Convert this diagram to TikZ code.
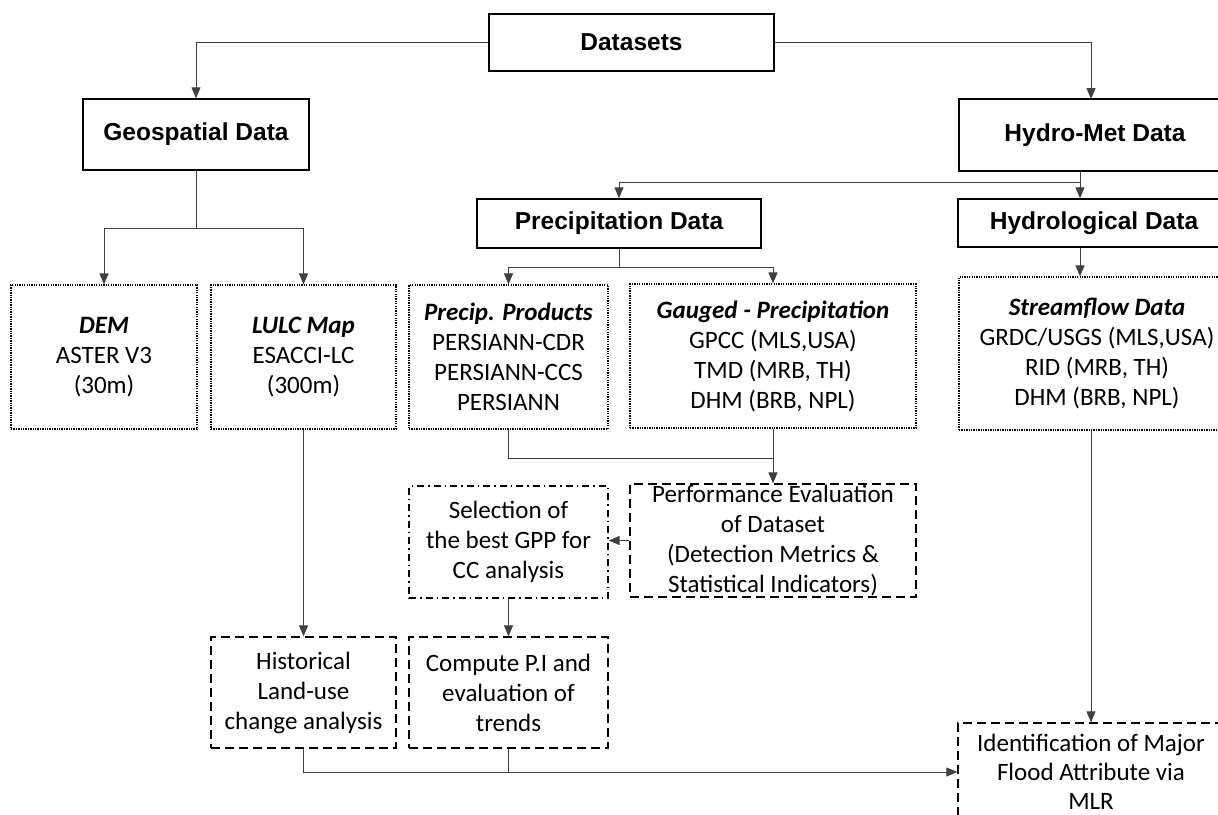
\documentclass[tikz,border=0pt]{standalone}
\usepackage{fontspec}
\setmainfont{Carlito}
\newfontfamily\headfont{Liberation Sans}
\usetikzlibrary{arrows.meta}

\begin{document}
\begin{tikzpicture}
  [x=1pt,y=-1pt,
  headbox/.style={draw=black,line width=1.4pt,inner sep=0pt,font=\headfont\fontsize{24.5}{29}\selectfont\bfseries},
  dotbox/.style={draw=black,line width=1.2pt,dash pattern=on 1.3pt off 1.1pt,inner sep=0pt,align=center,font=\fontsize{25}{30}\selectfont},
  dashbox/.style={draw=black,line width=1.3pt,dash pattern=on 9pt off 5pt,inner sep=0pt,align=center,font=\fontsize{25}{30}\selectfont},
  dashdotbox/.style={draw=black,line width=1.3pt,dash pattern=on 7pt off 4pt on 1.5pt off 4pt,inner sep=0pt,align=center,font=\fontsize{25}{30}\selectfont},
  conn/.style={draw=black!75,line width=1pt},
  arr/.style={conn,-{Triangle[length=11pt,width=9pt]}}]
  \useasboundingbox (0,0) rectangle (1218,814);

  \node[headbox,minimum width=285,minimum height=57] (data) at (631.5,42.5) {Datasets};
  \node[headbox,minimum width=226,minimum height=71] (geo) at (196,134.5) {Geospatial Data};
  \node[headbox,minimum width=272,minimum height=72] (hydro) at (1095,135) {Hydro-Met Data};
  \node[headbox,minimum width=284,minimum height=49] (precip) at (619,223.5) {Precipitation Data};
  \node[headbox,minimum width=272,minimum height=48] (hydrol) at (1094,223) {Hydrological Data};

  \node[dotbox,minimum width=186,minimum height=144] (dem) at (104,357) {\textbf{\textit{DEM}}\\ASTER V3\\(30m)};
  \node[dotbox,minimum width=185,minimum height=144] (lulc) at (303.5,357) {\textbf{\textit{LULC Map}}\\ESACCI-LC\\(300m)};
  \node[dotbox,minimum width=199,minimum height=144] (pprod) at (508.5,357) {\textbf{\textit{Precip. Products}}\\PERSIANN-CDR\\PERSIANN-CCS\\PERSIANN};
  \node[dotbox,minimum width=286,minimum height=144] (gauge) at (773,356) {\textbf{\textit{Gauged - Precipitation}}\\GPCC (MLS,USA)\\TMD (MRB, TH)\\DHM (BRB, NPL)};
  \node[dotbox,minimum width=276,minimum height=153] (stream) at (1097,353.5) {\textbf{\textit{Streamflow Data}}\\GRDC/USGS (MLS,USA)\\RID (MRB, TH)\\DHM (BRB, NPL)};

  \node[dashbox,minimum width=286,minimum height=113] (perf) at (773,540.5) {Performance Evaluation\\of Dataset\\(Detection Metrics \&\\Statistical Indicators)};
  \node[dashdotbox,minimum width=199,minimum height=112] (sel) at (508.5,542) {Selection of\\the best GPP for\\CC analysis};
  \node[dashbox,minimum width=185,minimum height=111] (hist) at (303.5,692.5) {Historical\\Land-use\\change analysis};
  \node[dashbox,minimum width=199,minimum height=111] (comp) at (508.5,692.5) {Compute P.I and\\evaluation of\\trends};
  \node[dashbox,minimum width=266,minimum height=98,font=\fontsize{25}{29}\selectfont] (mlr) at (1091,772) {Identification of Major\\Flood Attribute via\\MLR};

  \coordinate (gsplit) at (196,228);
  \coordinate (hsplit) at (1080,182);
  \coordinate (psplit) at (619,267);
  \coordinate (pjoin) at (773,458);

  \draw[arr] (data.west) -| (geo.north);
  \draw[arr] (data.east) -| (1091,99);
  \draw[conn] (geo.south) -- (gsplit);
  \draw[arr] (gsplit) -| (dem.north);
  \draw[arr] (gsplit) -| (lulc.north);
  \draw[arr] (hsplit |- hydro.south) -- (hsplit |- hydrol.north);
  \draw[arr] (hsplit) -| (precip.north);
  \draw[arr] (hsplit |- hydrol.south) -- (hsplit |- stream.north);
  \draw[conn] (precip.south) -- (psplit);
  \draw[arr] (psplit) -| (pprod.north);
  \draw[arr] (psplit) -| (gauge.north);
  \draw[conn] (pprod.south) |- (pjoin);
  \draw[arr] (gauge.south) -- (perf.north);
  \draw[arr] (perf.west) -- (perf.west -| sel.east);
  \draw[arr] (sel.south) -- (comp.north);
  \draw[arr] (lulc.south) -- (hist.north);
  \draw[arr] (hist.south) |- (mlr.west);
  \draw[conn] (comp.south) -- (comp.south |- mlr.west);
  \draw[arr] (mlr.north |- stream.south) -- (mlr.north);
\end{tikzpicture}
\end{document}
